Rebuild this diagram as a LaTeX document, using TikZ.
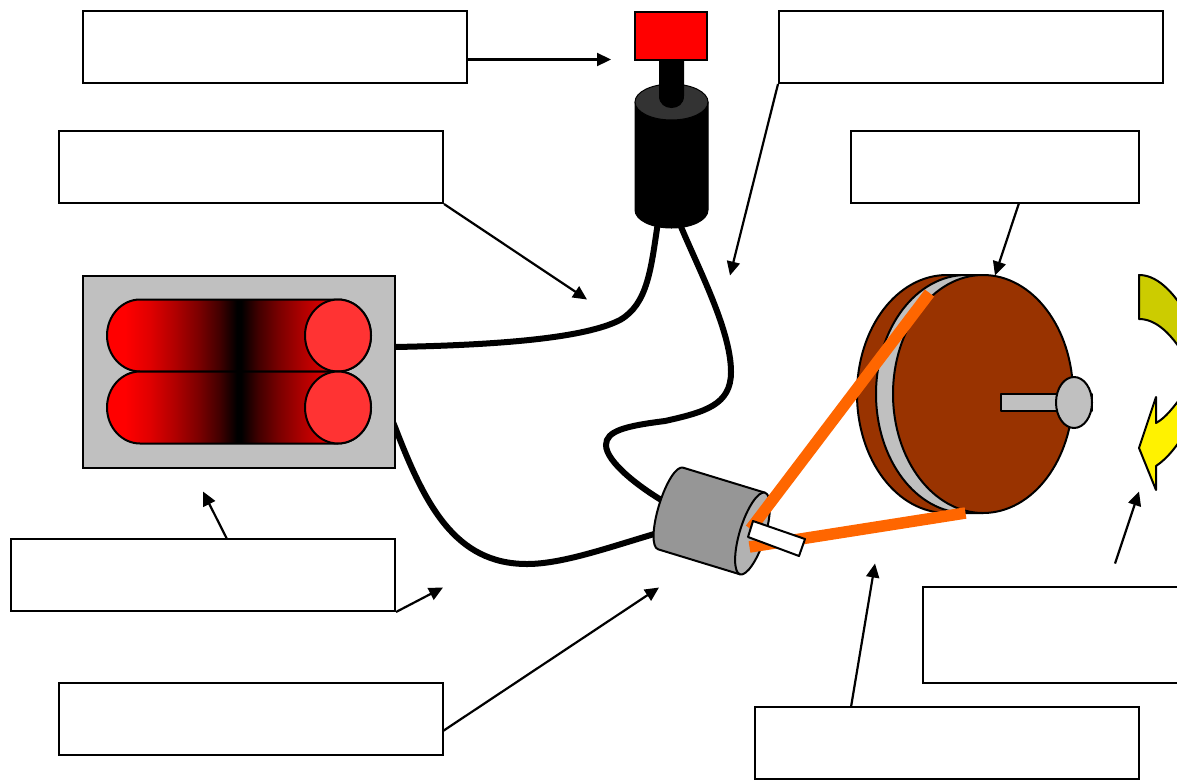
\documentclass[tikz,border=0pt]{standalone}
\usetikzlibrary{arrows.meta}
\definecolor{brownD}{HTML}{993300}
\definecolor{silverD}{HTML}{C0C0C0}
\definecolor{beltO}{HTML}{FF6600}
\definecolor{capR}{HTML}{FF3333}
\definecolor{motorG}{HTML}{969696}
\definecolor{motorE}{HTML}{B2B2B2}
\definecolor{yelD}{HTML}{CCCC00}
\definecolor{sA}{HTML}{E00000}
\definecolor{sB}{HTML}{B00000}
\definecolor{sC}{HTML}{780000}
\definecolor{sD}{HTML}{400000}
\pgfdeclarehorizontalshading{cellshade}{100bp}{color(0bp)=(red); color(28.4bp)=(red); color(33.1bp)=(sA); color(37.9bp)=(sB); color(42.6bp)=(sC); color(46.4bp)=(sD); color(49.6bp)=(black); color(50.4bp)=(black); color(53.6bp)=(sD); color(57.4bp)=(sC); color(62.1bp)=(sB); color(66.9bp)=(sA); color(71.6bp)=(red); color(100bp)=(red)}
\tikzset{
 x=1pt,y=-1pt,
 outl/.style={draw=black,line width=2pt,line join=round},
 lab/.style={draw=black,line width=2pt,fill=white,inner sep=0pt,minimum height=72pt},
 ptr/.style={draw=black,line width=2.2pt,-{Triangle[length=14pt,width=13pt]}},
 wire/.style={draw=black,line width=6pt},
 belt/.style={draw=beltO,line width=11.5pt},
}
\begin{document}
\begin{tikzpicture}
\useasboundingbox (0,0) rectangle (1177,780);
\clip (0,0) rectangle (1177,780);
\fill[white] (0,0) rectangle (1177,780);
% label boxes
\node[lab,minimum width=384pt] (b1) at (275,47) {};
\node[lab,minimum width=384pt] (b2) at (251,167) {};
\node[lab,minimum width=384pt] (b3) at (971,47) {};
\node[lab,minimum width=288pt] (b4) at (995,167) {};
\node[lab,minimum width=384pt,minimum height=96pt] (b5) at (1115,635) {};
\node[lab,minimum width=384pt] (b6) at (947,743) {};
\node[lab,minimum width=384pt] (b7) at (251,719) {};
\node[lab,minimum width=384pt] (b8) at (203,575) {};
% free ends
\coordinate (e1) at (611,59.5);
\coordinate (e2) at (587,299.5);
\coordinate (e3) at (730,275.5);
\coordinate (e4) at (995,275.5);
\coordinate (s5) at (1115,563.5);
\coordinate (e5) at (1139,491.5);
\coordinate (e6) at (875,563.5);
\coordinate (e7) at (659,587.5);
\coordinate (e8a) at (203,491.5);
\coordinate (e8b) at (443,587.5);
\draw[ptr] (b1.east|-e1) -- (e1);
\draw[ptr] (b2.south east) -- (e2);
\draw[ptr] (b3.south west) -- (e3);
\draw[ptr] (1019,203) -- (e4);
\draw[ptr] (s5) -- (e5);
\draw[ptr] (851,707) -- (e6);
\draw[ptr] (443,731) -- (e7);
\draw[ptr] (227,539) -- (e8a);
\draw[ptr] (b8.south east) -- (e8b);
% wires
\coordinate (w1a) at (385,347);
\coordinate (w1b) at (658,222);
\coordinate (w2a) at (679,222);
\coordinate (w2b) at (668,504);
\coordinate (w3a) at (388,410);
\coordinate (w3b) at (668,530);
\draw[wire] (w1a) -- (395,347) .. controls (500,345) and (585,338) .. (620,320)
 .. controls (648,304) and (651,268) .. (w1b);
\draw[wire] (w2a) .. controls (698,268) and (731,330) .. (731,372)
 .. controls (731,405) and (705,412) .. (665,421)
 .. controls (625,426) and (606,431) .. (606,445)
 .. controls (606,462) and (640,488) .. (w2b);
\draw[wire] (w3a) -- (395,427) .. controls (425,505) and (455,564) .. (527,564)
 .. controls (565,564) and (615,545) .. (w3b);
% battery
\node[draw=black,line width=2pt,fill=silverD,inner sep=0pt,minimum width=312pt,minimum height=192pt] (bat) at (239,371.5) {};
\foreach \yc in {335.5,407.5}{
 \path[outl,shading=cellshade]
  (338,\yc-36) -- (140,\yc-36)
  .. controls (122,\yc-36) and (107,\yc-20) .. (107,\yc)
  .. controls (107,\yc+20) and (122,\yc+36) .. (140,\yc+36)
  -- (338,\yc+36)
  .. controls (356,\yc+36) and (371,\yc+20) .. (371,\yc)
  .. controls (371,\yc-20) and (356,\yc-36) .. (338,\yc-36) -- cycle;
 \draw[outl,fill=capR] (338,\yc) ellipse [x radius=33,y radius=36];
}
% solenoid/switch
\path[draw=black,line width=1pt,fill=black] (635,102) -- (635,210)
 .. controls (635,220) and (651,228) .. (671.5,228)
 .. controls (692,228) and (708,220) .. (708,210) -- (708,102) -- cycle;
\draw[line width=1pt,black,fill=black!80] (671.5,102) ellipse [x radius=36.5,y radius=18];
\fill[black] (659,55) -- (659,96) .. controls (659,104) and (665,108) .. (671.5,108)
 .. controls (678,108) and (684,104) .. (684,96) -- (684,55) -- cycle;
\node[draw=black,line width=2pt,fill=red,inner sep=0pt,minimum width=72pt,minimum height=48pt] (sw) at (671,36) {};
% pulley
\path[outl,fill=brownD] (947,275) -- (983,275) -- (983,513) -- (947,513)
 .. controls (897,513) and (857,460) .. (857,394)
 .. controls (857,328) and (897,275) .. (947,275) -- cycle;
\draw[outl,fill=silverD] (966,394) ellipse [x radius=90,y radius=119];
\draw[outl,fill=brownD] (983,394) ellipse [x radius=90,y radius=119];
\draw[outl,fill=silverD] (1001,394) rectangle (1092,411);
\draw[outl,fill=silverD] (1074,402.5) ellipse [x radius=18,y radius=25.5];
% motor
\begin{scope}[shift={(752.5,533.5)},x={(0.956pt,-0.292pt)},y={(-0.292pt,-0.956pt)}]
 \path[outl,fill=motorG] (0,-42.7) -- (-85.7,-42.7)
  .. controls (-92.6,-42.7) and (-97.7,-23.6) .. (-97.7,0)
  .. controls (-97.7,23.6) and (-92.6,42.7) .. (-85.7,42.7)
  -- (0,42.7) -- cycle;
 \path[outl,fill=motorE] (0,-42.7)
  .. controls (6.9,-42.7) and (12.8,-23.6) .. (12.8,0)
  .. controls (12.8,23.6) and (6.9,42.7) .. (0,42.7)
  .. controls (-6.9,42.7) and (-12.8,23.6) .. (-12.8,0)
  .. controls (-12.8,-23.6) and (-6.9,-42.7) .. (0,-42.7) -- cycle;
\end{scope}
% belts
\coordinate (p1) at (929.5,293);
\coordinate (p2) at (965.5,513);
\coordinate (m1) at (750.5,529);
\coordinate (m2) at (749.5,547);
\draw[belt] (m1) -- (p1);
\draw[belt] (m2) -- (p2);
% shaft
\path[outl,fill=white] (753,521) -- (805,539) -- (799,556) -- (748,537) -- cycle;
% rotation arrows
\path[outl,fill=yelD] (1139,275) .. controls (1155,275) and (1172,288) .. (1190,320)
 -- (1190,365) .. controls (1172,332) and (1155,319) .. (1139,319) -- cycle;
\path[outl,fill=yellow] (1156,397) -- (1156,423) .. controls (1165,418) and (1172,410) .. (1190,385)
 -- (1190,425) .. controls (1178,445) and (1168,458) .. (1156,466) -- (1156,490) -- (1139,448) -- cycle;
\end{tikzpicture}
\end{document}
